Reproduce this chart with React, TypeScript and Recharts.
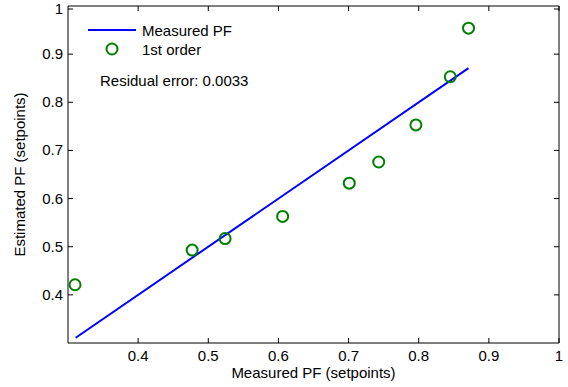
import { ComposedChart, Line, Scatter, XAxis, YAxis } from 'recharts';

// fitted line end points (measured vs measured)
const lineX = [0.311, 0.871];

// 1st order estimates
const measured = [0.31, 0.477, 0.524, 0.606, 0.701, 0.743, 0.796, 0.845, 0.871];
const estimated = [0.421, 0.493, 0.517, 0.563, 0.632, 0.676, 0.753, 0.853, 0.954];

const xTicks = [0.4, 0.5, 0.6, 0.7, 0.8, 0.9, 1];
const yTicks = [0.4, 0.5, 0.6, 0.7, 0.8, 0.9, 1];

const lineData = lineX.map((v) => ({ x: v, y: v }));
const pointData = measured.map((m, i) => ({ x: m, y: estimated[i] }));

const FONT = 'Liberation Sans, Arial, sans-serif';
const FS = 15;

function fmt(v: number) {
  return v === 1 ? '1' : String(v);
}

const BottomTick = (props: any) => {
  const { x, y, payload } = props;
  return (
    <g>
      <line x1={x} y1={y} x2={x} y2={y - 5} stroke="#000" />
      <text x={x} y={y + 18} textAnchor="middle" fontSize={FS} fontFamily={FONT} fill="#000">
        {fmt(payload.value)}
      </text>
    </g>
  );
};

const TopTick = (props: any) => {
  const { x, y } = props;
  return <line x1={x} y1={y} x2={x} y2={y + 5} stroke="#000" />;
};

const LeftTick = (props: any) => {
  const { x, y, payload } = props;
  return (
    <g>
      <line x1={x} y1={y} x2={x + 5} y2={y} stroke="#000" />
      <text x={x - 5} y={y + 5} textAnchor="end" fontSize={FS} fontFamily={FONT} fill="#000">
        {fmt(payload.value)}
      </text>
    </g>
  );
};

const RightTick = (props: any) => {
  const { x, y } = props;
  return <line x1={x} y1={y} x2={x - 5} y2={y} stroke="#000" />;
};

const Ring = (props: any) => (
  <circle cx={props.cx} cy={props.cy} r={5.5} fill="none" stroke="#008000" strokeWidth={2} />
);

export default function App() {
  return (
    <div style={{ position: 'fixed', top: 0, left: 0, width: 568, height: 387, background: '#fff' }}>
      <ComposedChart width={568} height={387} margin={{ top: 5, right: 8, bottom: 0, left: 18 }}>
        <XAxis
          xAxisId="b"
          type="number"
          dataKey="x"
          domain={[0.3, 1]}
          ticks={xTicks}
          allowDataOverflow
          stroke="#000"
          tickLine={false}
          tickSize={0}
          tickMargin={0}
          tick={<BottomTick />}
          height={44}
          label={{ value: 'Measured PF (setpoints)', position: 'insideBottom', offset: 9, fontSize: FS, fontFamily: FONT, fill: '#000' }}
        />
        <XAxis
          xAxisId="t"
          orientation="top"
          type="number"
          dataKey="x"
          domain={[0.3, 1]}
          ticks={xTicks}
          allowDataOverflow
          stroke="#000"
          tickLine={false}
          tickSize={0}
          tickMargin={0}
          tick={<TopTick />}
          height={1}
        />
        <YAxis
          yAxisId="l"
          type="number"
          dataKey="y"
          domain={[0.3, 1]}
          ticks={yTicks}
          allowDataOverflow
          stroke="#000"
          tickLine={false}
          tickSize={0}
          tickMargin={0}
          tick={<LeftTick />}
          width={50}
          label={{ value: 'Estimated PF (setpoints)', angle: -90, position: 'insideLeft', offset: 2, style: { textAnchor: 'middle' }, fontSize: FS, fontFamily: FONT, fill: '#000' }}
        />
        <YAxis
          yAxisId="r"
          orientation="right"
          type="number"
          dataKey="y"
          domain={[0.3, 1]}
          ticks={yTicks}
          allowDataOverflow
          stroke="#000"
          tickLine={false}
          tickSize={0}
          tickMargin={0}
          tick={<RightTick />}
          width={1}
        />
        <Line
          xAxisId="b"
          yAxisId="l"
          data={lineData}
          dataKey="y"
          type="linear"
          stroke="#0000ff"
          strokeWidth={2}
          dot={false}
          activeDot={false}
          isAnimationActive={false}
        />
        <Scatter
          xAxisId="b"
          yAxisId="l"
          data={pointData}
          dataKey="y"
          shape={<Ring />}
          isAnimationActive={false}
        />
      </ComposedChart>
      <svg width={220} height={80} style={{ position: 'absolute', top: 18, left: 85 }}>
        <line x1={3} y1={12} x2={51} y2={12} stroke="#0000ff" strokeWidth={2} />
        <text x={57} y={17.5} fontSize={FS} fontFamily={FONT} fill="#000">Measured PF</text>
        <circle cx={27} cy={31} r={5.5} fill="none" stroke="#008000" strokeWidth={2} />
        <text x={57} y={36.5} fontSize={FS} fontFamily={FONT} fill="#000">1st order</text>
        <text x={15} y={68} fontSize={FS} fontFamily={FONT} fill="#000">Residual error: 0.0033</text>
      </svg>
    </div>
  );
}
